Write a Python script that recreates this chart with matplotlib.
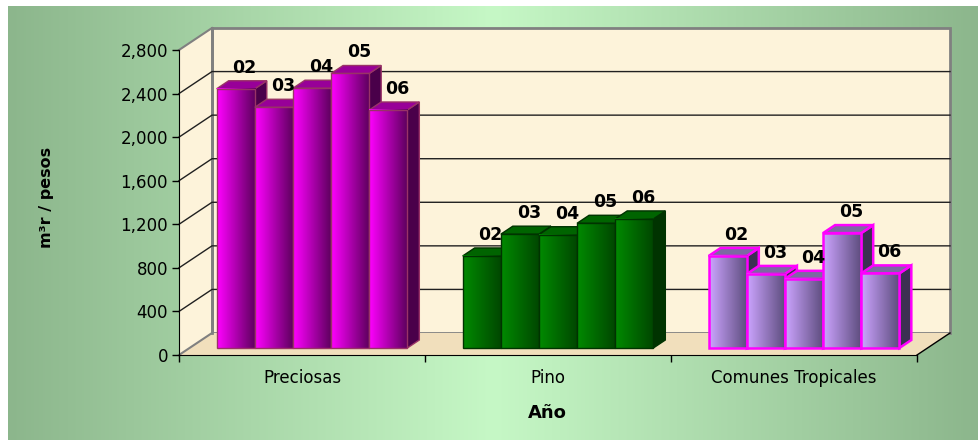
import numpy as np
import matplotlib
matplotlib.use('Agg')
import matplotlib.pyplot as plt
from matplotlib.patches import Polygon
from matplotlib.transforms import ScaledTranslation

# datos
categorias = ['Preciosas', 'Pino', 'Comunes Tropicales']
anios = ['02', '03', '04', '05', '06']
preciosas = [2380, 2210, 2385, 2520, 2185]
pino = [845, 1045, 1040, 1145, 1185]
comunes = [845, 680, 635, 1055, 685]
y_ticks = [0, 400, 800, 1200, 1600, 2000, 2400, 2800]
y_labels = ['0', '400', '800', '1,200', '1,600', '2,000', '2,400', '2,800']

series = [preciosas, pino, comunes]
# (claro, oscuro, tapa, lado, borde, grosor borde)
estilos = [
    ('#ff00ff', '#5c005c', '#980098', '#4a004a', '#993366', 1.0),
    ('#008a00', '#004600', '#006400', '#003300', '#003300', 1.0),
    ('#cca4ff', '#5c4c7c', '#7c6aa2', '#3c3052', '#ff00ff', 1.8),
]

W, H = 979, 440
fig = plt.figure(figsize=(W / 100, H / 100), dpi=100)
fig.patch.set_facecolor('white')

# fondo degradado verde
bg = fig.add_axes([8 / W, 0, (W - 8) / W, (H - 6) / H])
xs = np.linspace(0, 1, 500)
t = 1 - np.abs(xs - 0.5) / 0.5
borde = np.array([140, 182, 140]) / 255
centro = np.array([198, 248, 198]) / 255
grad = borde[None, :] + t[:, None] * (centro - borde)[None, :]
bg.imshow(grad[None, :, :], aspect='auto', extent=(0, 1, 0, 1))
bg.axis('off')

# plano frontal del grafico
ax = fig.add_axes([179 / W, (H - 355) / H, 738 / W, 305 / H])
ax.set_xlim(-0.5, 2.5)
ax.set_ylim(0, 2800)
ax.set_autoscale_on(False)
ax.patch.set_alpha(0)


def desp(x, y, dx, dy):
    px, py = ax.transData.transform((x, y))
    return ax.transData.inverted().transform((px + dx, py + dy))


FX, FY = 33, 22      # profundidad de paredes
BX, BY = 10, 7       # cara frontal de barras
AX_, AY = 22, 15     # cara trasera de barras
crema = '#fdf3da'
piso = '#f1dfbc'
gris = '#808080'

# pared izquierda
ax.add_patch(Polygon([desp(-0.5, 0, 0, 0), desp(-0.5, 2800, 0, 0),
                      desp(-0.5, 2800, FX, FY), desp(-0.5, 0, FX, FY)],
                     closed=True, facecolor=crema, edgecolor='none', zorder=0,
                     clip_on=False))
# pared trasera
ax.add_patch(Polygon([desp(-0.5, 0, FX, FY), desp(2.5, 0, FX, FY),
                      desp(2.5, 2800, FX, FY), desp(-0.5, 2800, FX, FY)],
                     closed=True, facecolor=crema, edgecolor=gris, lw=2, zorder=0,
                     clip_on=False))
# piso
ax.add_patch(Polygon([desp(-0.5, 0, 0, 0), desp(2.5, 0, 0, 0),
                      desp(2.5, 0, FX, FY), desp(-0.5, 0, FX, FY)],
                     closed=True, facecolor=piso, edgecolor='none', zorder=0.5,
                     clip_on=False))
p0, p1 = desp(2.5, 0, 0, 0), desp(2.5, 0, FX, FY)
ax.plot([p0[0], p1[0]], [p0[1], p1[1]], color='black', lw=1, zorder=0.6, clip_on=False)
for v in [0, 2800]:
    p0, p1 = desp(-0.5, v, 0, 0), desp(-0.5, v, FX, FY)
    ax.plot([p0[0], p1[0]], [p0[1], p1[1]], color=gris, lw=1.5, zorder=0.6, clip_on=False)
p0, p1 = desp(-0.5, 0, FX, FY), desp(-0.5, 2800, FX, FY)
ax.plot([p0[0], p1[0]], [p0[1], p1[1]], color=gris, lw=2, zorder=0.6, clip_on=False)

# lineas de division
for v in y_ticks[1:-1]:
    p0, p1 = desp(-0.5, v, 0, 0), desp(-0.5, v, FX, FY)
    p2 = desp(2.5, v, FX, FY)
    ax.plot([p0[0], p1[0], p2[0]], [p0[1], p1[1], p2[1]], color='#202020',
            lw=1, zorder=0.7, clip_on=False)

# barras 3D
ancho = 0.155
trans = ax.transData + ScaledTranslation(BX / 100, BY / 100, fig.dpi_scale_trans)
z = 2
for j, (vals, est) in enumerate(zip(series, estilos)):
    claro, oscuro, tapa, lado, ec, lw = est
    xpos = j + (np.arange(len(vals)) - 2) * ancho
    barras = ax.bar(xpos, vals, width=ancho, facecolor='none', edgecolor=ec,
                    linewidth=lw, transform=trans)
    c0 = np.array(matplotlib.colors.to_rgb(claro))
    c1 = np.array(matplotlib.colors.to_rgb(oscuro))
    s = np.linspace(0, 1, 60)
    gbar = c0[None, :] + s[:, None] * (c1 - c0)[None, :]
    for i, (x, v) in enumerate(zip(xpos, vals)):
        x0, x1 = x - ancho / 2, x + ancho / 2
        ax.add_patch(Polygon([desp(x1, 0, BX, BY), desp(x1, v, BX, BY),
                              desp(x1, v, AX_, AY), desp(x1, 0, AX_, AY)],
                             closed=True, facecolor=lado, edgecolor=ec, lw=lw,
                             zorder=z, clip_on=False))
        ax.add_patch(Polygon([desp(x0, v, BX, BY), desp(x1, v, BX, BY),
                              desp(x1, v, AX_, AY), desp(x0, v, AX_, AY)],
                             closed=True, facecolor=tapa, edgecolor=ec, lw=lw,
                             zorder=z + 0.1, clip_on=False))
        ax.imshow(gbar[None, :, :], extent=(x0, x1, 0, v), aspect='auto',
                  transform=trans, zorder=z + 0.2, interpolation='bilinear',
                  clip_on=False)
        barras[i].set_zorder(z + 0.3)
        barras[i].set_clip_on(False)
        ax.annotate(anios[i], (x, v), xytext=(19, 23), textcoords='offset pixels',
                    ha='center', va='baseline', fontsize=12.5, fontweight='bold',
                    zorder=100)
        z += 1

ax.set_xlim(-0.5, 2.5)
ax.set_ylim(0, 2800)

# ejes
ax.spines[['top', 'right']].set_visible(False)
ax.spines[['left', 'bottom']].set_color('black')
ax.spines[['left', 'bottom']].set_zorder(1)
ax.set_yticks(y_ticks, y_labels)
ax.tick_params(axis='y', direction='out', length=5, width=1, pad=3, labelsize=12)
ax.set_xticks(range(len(categorias)), categorias)
ax.tick_params(axis='x', which='major', length=0, pad=10, labelsize=12)
ax.set_xticks([-0.5, 0.5, 1.5, 2.5], minor=True)
ax.tick_params(axis='x', which='minor', direction='out', length=5, width=1)

ax.set_ylabel('m³r / pesos', fontsize=11.5, fontweight='bold', va='center')
ax.yaxis.set_label_coords(-0.179, 0.515)
ax.set_xlabel('Año', fontsize=13, fontweight='bold', va='center')
ax.xaxis.set_label_coords(0.4986, -0.19)

fig.savefig('out.png', dpi=100)
